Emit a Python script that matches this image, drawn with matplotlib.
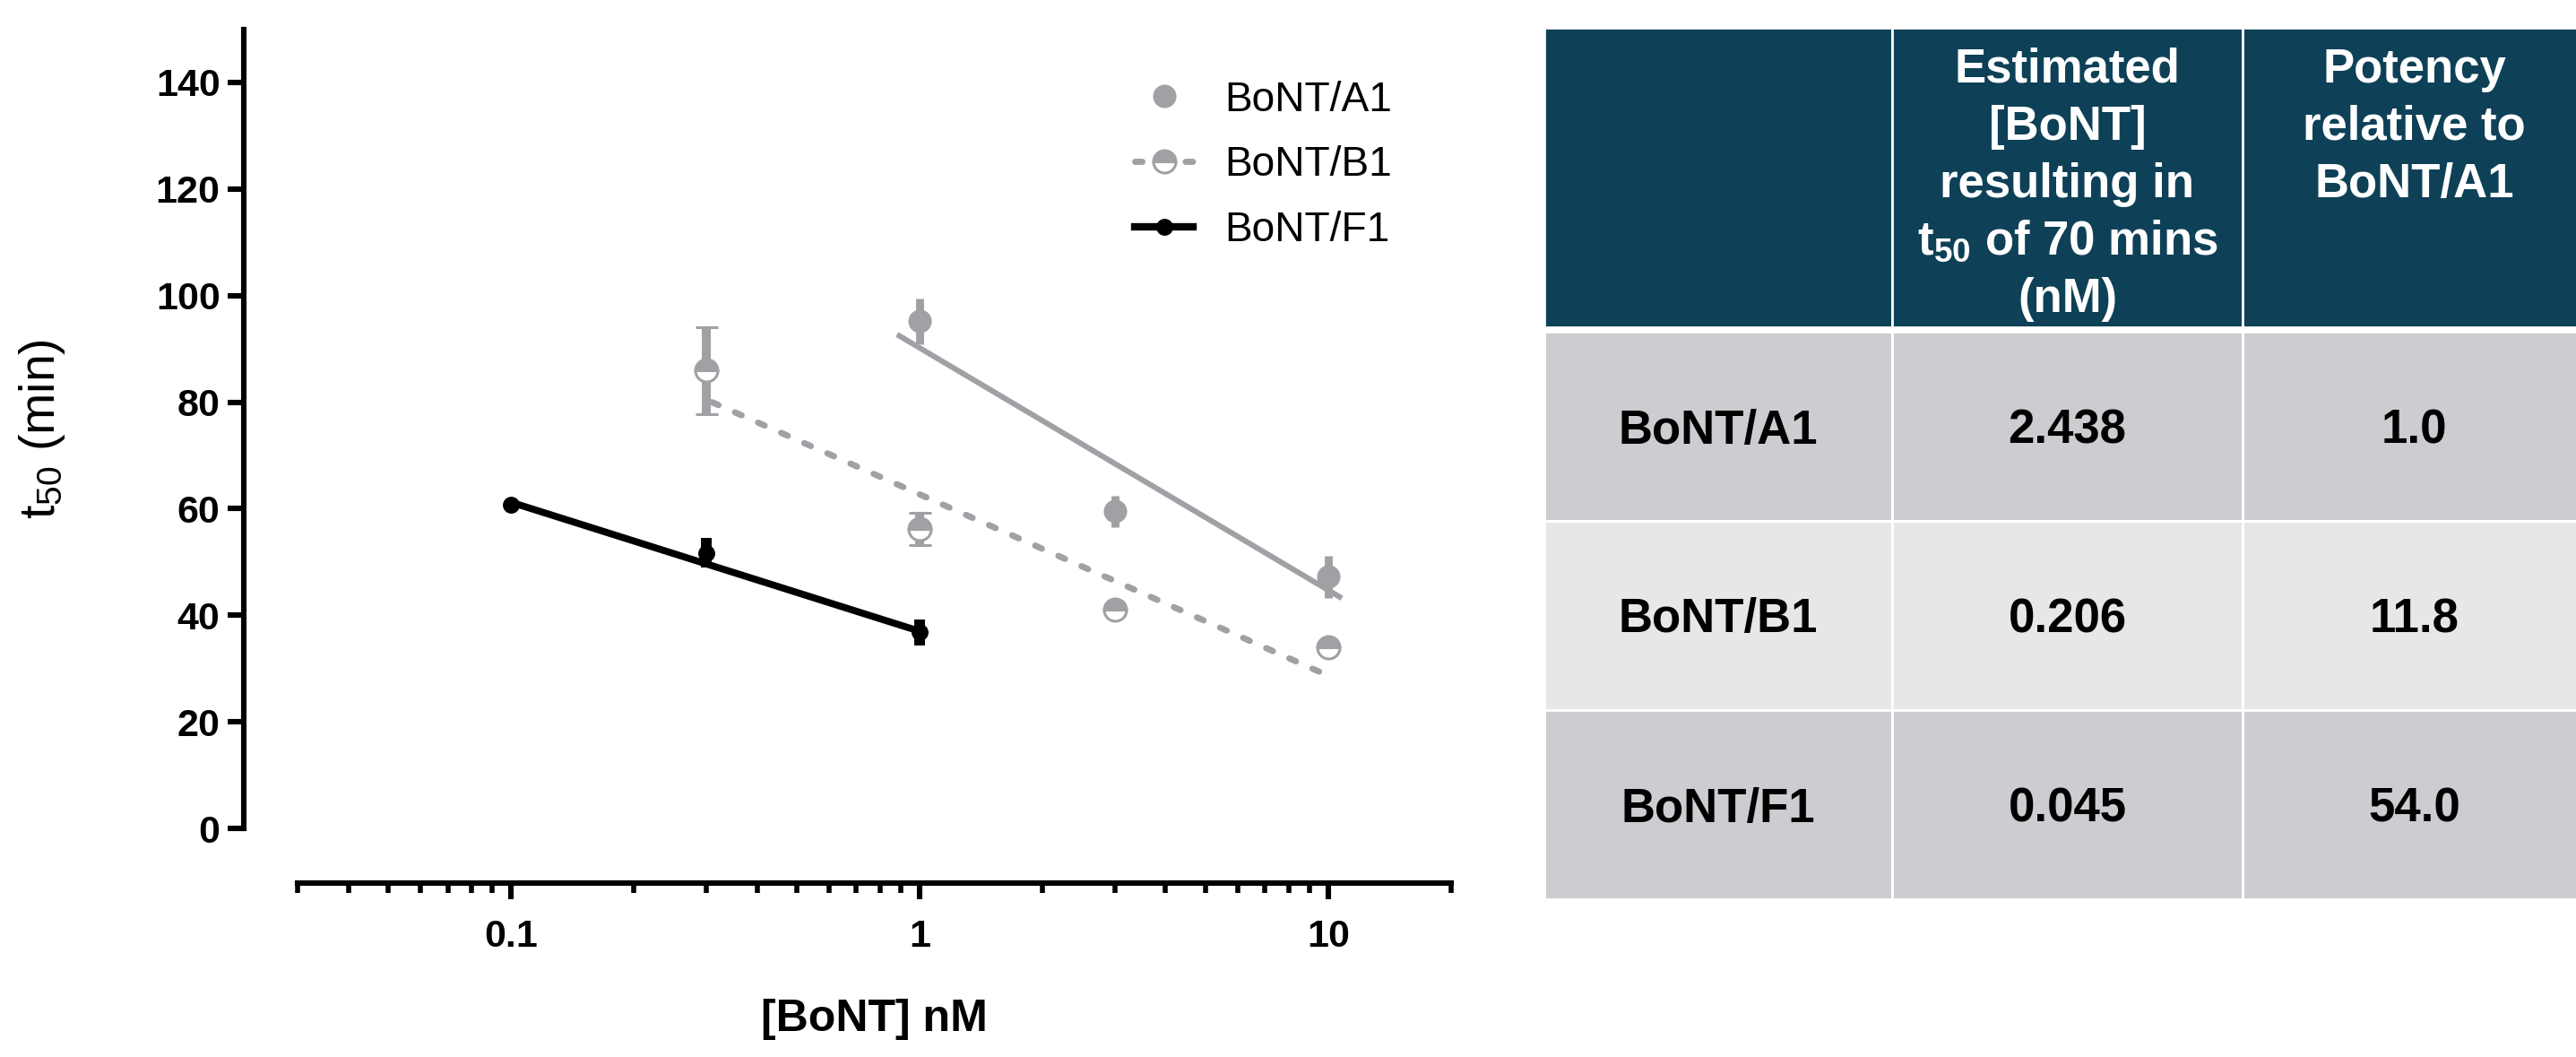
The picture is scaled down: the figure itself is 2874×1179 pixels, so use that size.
import matplotlib
matplotlib.use("Agg")
import matplotlib.pyplot as plt
from matplotlib.lines import Line2D
from matplotlib.patches import Rectangle
from matplotlib.ticker import LogLocator, NullFormatter

# ---- data ----
conc_a1 = [1, 3, 10]
t50_a1 = [95.2, 59.5, 47.2]
err_a1 = [4.3, 3.0, 3.9]

conc_b1 = [0.3, 1, 3, 10]
t50_b1 = [85.9, 56.2, 41.0, 34.0]
err_b1 = [8.2, 3.0, 0, 0]

conc_f1 = [0.1, 0.3, 1]
t50_f1 = [60.8, 51.7, 36.8]
err_f1 = [0, 2.8, 2.4]

# end points of the fitted lines as drawn
fit_a1_x = [0.88, 10.8]
fit_a1_y = [92.7, 43.2]
fit_b1_x = [0.31, 9.98]
fit_b1_y = [80.0, 28.7]
fit_f1_x = [0.1, 1.0]
fit_f1_y = [61.2, 37.0]

x_ticks = [0.1, 1, 10]
x_ticklabels = ["0.1", "1", "10"]
y_ticks = [0, 20, 40, 60, 80, 100, 120, 140]

series_names = ["BoNT/A1", "BoNT/B1", "BoNT/F1"]

# table contents
table_header = ["",
                "Estimated\n[BoNT]\nresulting in\nt$_{\\mathbf{50}}$ of 70 mins\n(nM)",
                "Potency\nrelative to\nBoNT/A1"]
table_strain = ["BoNT/A1", "BoNT/B1", "BoNT/F1"]
table_conc = ["2.438", "0.206", "0.045"]
table_potency = ["1.0", "11.8", "54.0"]

GREY = "#a0a0a5"
HEAD = "#0e4157"
ROW_COLORS = ["#cccdd1", "#e6e7e9", "#cccdd1"]

plt.rcParams['font.family'] = ['Liberation Sans', 'DejaVu Sans']
plt.rcParams['mathtext.fontset'] = 'custom'
plt.rcParams['mathtext.rm'] = 'Liberation Sans'
plt.rcParams['mathtext.bf'] = 'Liberation Sans:bold'
plt.rcParams['mathtext.it'] = 'Liberation Sans:italic'

W, H = 2874, 1179
DPI = 200
fig = plt.figure(figsize=(W / DPI, H / DPI), dpi=DPI)

# ---- left: the dose/response plot ----
ax = fig.add_axes([332 / W, 1 - 924 / H, (1619 - 332) / W, (924 - 32.5) / H])
ax.set_xscale('log')
ax.set_xlim(0.03, 20)
ax.set_ylim(0, 150)

# fitted lines
ax.plot(fit_a1_x, fit_a1_y, color=GREY, lw=2.2, solid_capstyle='butt', zorder=2)
ax.plot(fit_b1_x, fit_b1_y, color=GREY, lw=2.5, ls=(0, (1.16, 2.9)),
        dash_capstyle='round', zorder=2)
ax.plot(fit_f1_x, fit_f1_y, color='black', lw=2.8, solid_capstyle='butt', zorder=2)

# data points with error bars
ax.errorbar(conc_a1, t50_a1, yerr=err_a1, fmt='o', color=GREY, ms=9.4, mew=0,
            elinewidth=3.2, capsize=2.3, capthick=3.2, zorder=3, clip_on=False)
ax.errorbar(conc_b1, t50_b1, yerr=err_b1, fmt='o', color=GREY, ms=9.0,
            mfc=GREY, markerfacecoloralt='white', fillstyle='top', mec=GREY, mew=1.1,
            elinewidth=3.6, capsize=4.5, capthick=3.2, zorder=3, clip_on=False)
ax.errorbar(conc_f1, t50_f1, yerr=err_f1, fmt='o', color='black', ms=6.8, mew=0,
            elinewidth=4.3, capsize=0, zorder=3, clip_on=False)

# axes styling (GraphPad-like offset spines)
for side in ['top', 'right']:
    ax.spines[side].set_visible(False)
ax.spines['left'].set_position(('outward', 21.6))
ax.spines['bottom'].set_position(('outward', 21.8))
for side in ['left', 'bottom']:
    ax.spines[side].set_linewidth(2.2)

ax.set_xticks(x_ticks)
ax.set_xticklabels(x_ticklabels, fontweight='bold')
ax.xaxis.set_minor_locator(LogLocator(base=10, subs=(2, 3, 4, 5, 6, 7, 8, 9)))
ax.xaxis.set_minor_formatter(NullFormatter())
ax.set_yticks(y_ticks)
ax.set_yticklabels([str(v) for v in y_ticks], fontweight='bold')
ax.tick_params(axis='both', which='major', width=2.2, length=6.5, labelsize=15.5)
ax.tick_params(axis='x', which='major', pad=8)
ax.tick_params(axis='y', which='major', pad=3)
ax.tick_params(axis='x', which='minor', width=2.0, length=3.8)

ax.set_xlabel("[BoNT] nM", fontsize=18, fontweight='bold')
ax.xaxis.set_label_coords(0.5, -0.2126)
ax.set_ylabel("t$_{\\mathrm{50}}$ (min)", fontsize=20)
ax.yaxis.set_label_coords(-0.200, 0.5)

# legend
handles = [
    Line2D([], [], ls='none', marker='o', color=GREY, ms=9.4, mew=0),
    Line2D([], [], color=GREY, lw=2.5, ls=(0, (1.16, 2.9)), dash_capstyle='round',
           marker='o', ms=9.0, mfc=GREY, markerfacecoloralt='white', fillstyle='top',
           mec=GREY, mew=1.1),
    Line2D([], [], color='black', lw=3.0, marker='o', ms=6.8, mew=0),
]
ax.legend(handles, series_names, loc='upper left',
          bbox_to_anchor=(1266 / W, 1 - 89.6 / H), bbox_transform=fig.transFigure,
          frameon=False, fontsize=16.6, handlelength=1.41, handletextpad=0.77,
          labelspacing=0.62, borderpad=0, borderaxespad=0, numpoints=1)

# ---- right: summary table (drawn in pixel units) ----
col_edges = [1723, 2111, 2502, 2885]
head_top, head_bot = 31, 365
row_edges = [370, 581, 792, 1003]
tx0, tx1 = col_edges[0], col_edges[-1]
tab = fig.add_axes([tx0 / W, 1 - row_edges[-1] / H, (tx1 - tx0) / W,
                    (row_edges[-1] - head_top) / H])
tab.set_xlim(tx0, tx1)
tab.set_ylim(row_edges[-1], head_top)
tab.axis('off')

line_step = 64
for j in range(3):
    x0, x1 = col_edges[j], col_edges[j + 1]
    tab.add_patch(Rectangle((x0, head_top), x1 - x0, head_bot - head_top,
                            facecolor=HEAD, edgecolor='white', lw=1.0))
    cx = (x0 + x1) / 2
    for i, line in enumerate(table_header[j].split('\n')):
        tab.text(cx, 92 + line_step * i, line, ha='center', va='baseline',
                 color='white', fontsize=19, fontweight='bold')

for r in range(3):
    y0, y1 = row_edges[r], row_edges[r + 1]
    cells = [table_strain[r], table_conc[r], table_potency[r]]
    for j in range(3):
        x0, x1 = col_edges[j], col_edges[j + 1]
        tab.add_patch(Rectangle((x0, y0), x1 - x0, y1 - y0,
                                facecolor=ROW_COLORS[r], edgecolor='white', lw=1.0))
        tab.text((x0 + x1) / 2, (y0 + y1) / 2 + 19, cells[j], ha='center',
                 va='baseline', color='black', fontsize=19, fontweight='bold')

fig.savefig("out.png", dpi=DPI)
